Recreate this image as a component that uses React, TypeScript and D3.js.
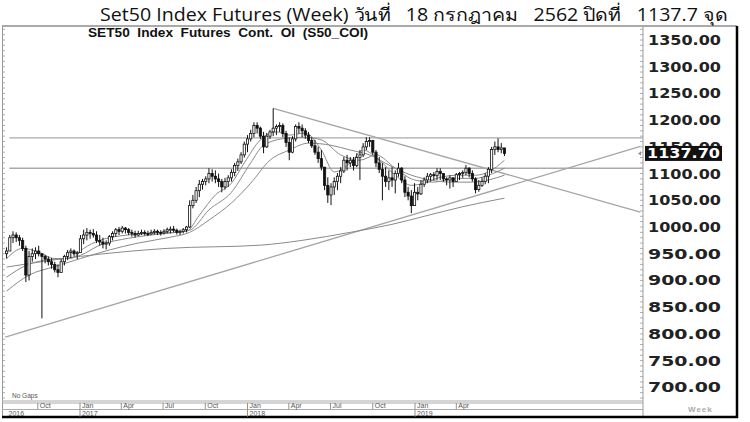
import * as d3 from "d3";

// weekly bars, first bar is the week of 25 Jul 2016
const firstWeek = new Date(2016, 6, 25);
const firstOpen = 950;

const closes = [
  955, 980, 985, 980, 975, 960, 910, 945, 950, 955,
  950, 945, 940, 935, 930, 920, 915, 935, 945, 952,
  955, 950, 952, 978, 985, 990, 988, 985, 975, 972,
  968, 970, 982, 988, 995, 992, 998, 995, 990, 988,
  985, 988, 990, 988, 987, 990, 992, 990, 989, 992,
  995, 996, 994, 990, 992, 995, 1000, 1040, 1050, 1068,
  1080, 1085, 1090, 1100, 1095, 1090, 1085, 1075, 1085, 1092,
  1102, 1115, 1122, 1135, 1155, 1165, 1175, 1190, 1185, 1170,
  1150, 1170, 1178, 1185, 1188, 1190, 1175, 1158, 1140, 1165,
  1188, 1185, 1180, 1172, 1162, 1152, 1140, 1128, 1112, 1078,
  1060, 1075, 1085, 1095, 1105, 1125, 1120, 1125, 1115, 1130,
  1135, 1150, 1160, 1162, 1140, 1120, 1108, 1095, 1085, 1092,
  1088, 1100, 1110, 1088, 1065, 1058, 1040, 1065, 1062, 1080,
  1088, 1095, 1098, 1096, 1104, 1100, 1090, 1088, 1092, 1085,
  1098, 1100, 1102, 1110, 1100, 1090, 1070, 1078, 1085, 1095,
  1108, 1145, 1150, 1145, 1148, 1137.7,
];

const highs = [
  962, 985, 992, 990, 985, 980, 965, 955, 960, 962,
  965, 950, 948, 945, 942, 935, 930, 940, 948, 957,
  960, 958, 955, 985, 995, 998, 995, 996, 992, 985,
  980, 975, 985, 992, 998, 1000, 1002, 1000, 998, 995,
  993, 993, 995, 994, 993, 995, 996, 995, 994, 996,
  999, 1001, 1002, 997, 995, 998, 1002, 1050, 1060, 1075,
  1088, 1090, 1095, 1110, 1108, 1106, 1100, 1090, 1092, 1097,
  1108, 1120, 1128, 1140, 1160, 1172, 1182, 1196, 1196, 1188,
  1178, 1176, 1182, 1222, 1192, 1196, 1194, 1180, 1168, 1170,
  1192, 1196, 1192, 1185, 1178, 1168, 1163, 1150, 1144, 1112,
  1093, 1082, 1093, 1101, 1112, 1131, 1135, 1131, 1131, 1138,
  1144, 1157, 1168, 1168, 1163, 1144, 1131, 1120, 1112, 1106,
  1112, 1106, 1120, 1112, 1095, 1075, 1069, 1082, 1075, 1088,
  1093, 1101, 1101, 1103, 1110, 1110, 1097, 1093, 1097, 1093,
  1101, 1103, 1106, 1116, 1112, 1106, 1093, 1088, 1093, 1101,
  1112, 1150, 1160, 1166, 1157, 1148,
];

const lows = [
  941, 955, 970, 972, 965, 955, 897, 900, 935, 940,
  945, 829, 932, 928, 922, 915, 906, 920, 928, 938,
  942, 945, 940, 955, 968, 975, 978, 980, 970, 965,
  960, 958, 965, 975, 982, 985, 988, 988, 985, 982,
  980, 983, 985, 984, 983, 985, 986, 985, 984, 986,
  988, 988, 990, 986, 985, 988, 990, 998, 1035, 1045,
  1056, 1070, 1078, 1082, 1085, 1082, 1075, 1065, 1070, 1075,
  1085, 1095, 1105, 1118, 1130, 1140, 1160, 1168, 1175, 1165,
  1138, 1148, 1165, 1170, 1172, 1178, 1168, 1150, 1125, 1138,
  1160, 1175, 1168, 1165, 1157, 1148, 1135, 1120, 1106, 1069,
  1045, 1041, 1060, 1069, 1082, 1101, 1106, 1112, 1106, 1112,
  1088, 1131, 1144, 1150, 1135, 1112, 1101, 1050, 1075, 1069,
  1075, 1063, 1094, 1082, 1056, 1050, 1026, 1045, 1050, 1060,
  1075, 1082, 1085, 1088, 1088, 1088, 1085, 1078, 1072, 1075,
  1085, 1088, 1092, 1097, 1093, 1085, 1063, 1066, 1075, 1080,
  1082, 1101, 1135, 1140, 1138, 1133,
];

// moving averages: [week index, value]
const maFast: [number, number][] = [
  [0, 941], [5, 960], [10, 953], [15, 941], [20, 941], [24, 960], [29, 975], [35, 983],
  [45, 988], [56, 992], [60, 1022], [65, 1060], [70, 1082], [74, 1120], [79, 1163],
  [84, 1178], [88, 1172], [93, 1176], [98, 1144], [102, 1103], [107, 1120], [111, 1144],
  [116, 1125], [121, 1097], [126, 1078], [130, 1082], [135, 1093], [141, 1097],
  [146, 1097], [150, 1103], [155, 1125],
];
const maMid: [number, number][] = [
  [0, 906], [6, 928], [12, 938], [18, 941], [23, 947], [29, 966], [38, 979], [48, 987],
  [57, 994], [63, 1032], [70, 1065], [76, 1120], [80, 1153], [87, 1166], [93, 1168],
  [98, 1163], [104, 1135], [110, 1125], [115, 1135], [121, 1110], [127, 1088],
  [133, 1084], [140, 1091], [146, 1091], [150, 1097], [155, 1110],
];
const maSlow: [number, number][] = [
  [0, 880], [7, 910], [15, 926], [23, 941], [32, 957], [41, 970], [51, 981], [57, 990],
  [63, 1013], [70, 1045], [76, 1082], [82, 1125], [88, 1144], [94, 1157], [101, 1153],
  [107, 1144], [113, 1135], [119, 1116], [126, 1097], [132, 1088], [138, 1084],
  [144, 1084], [150, 1088], [155, 1097],
];
const maLong: [number, number][] = [
  [0, 925], [23, 945], [50, 960], [79, 966], [92, 975], [107, 990], [120, 1005],
  [130, 1020], [142, 1038], [155, 1054],
];

const priceTicks = [1350, 1300, 1250, 1200, 1150, 1100, 1050, 1000, 950, 900, 850, 800, 750, 700];
const lastClose = 1137.7;
const levels = [1167, 1110];
const levelStart = new Date(2016, 6, 31);
const trendLines: { from: [Date, number]; to: [Date, number] }[] = [
  { from: [new Date(2016, 6, 22), 794], to: [new Date(2020, 4, 6), 1151] },
  { from: [new Date(2018, 1, 26), 1222], to: [new Date(2020, 4, 6), 1028] },
];

const monthTicks: [Date, string][] = [
  [new Date(2016, 9, 1), "Oct"], [new Date(2017, 0, 1), "Jan"], [new Date(2017, 3, 1), "Apr"],
  [new Date(2017, 6, 1), "Jul"], [new Date(2017, 9, 1), "Oct"], [new Date(2018, 0, 1), "Jan"],
  [new Date(2018, 3, 1), "Apr"], [new Date(2018, 6, 1), "Jul"], [new Date(2018, 9, 1), "Oct"],
  [new Date(2019, 0, 1), "Jan"], [new Date(2019, 3, 1), "Apr"],
];
const yearTicks: [Date, string][] = [
  [new Date(2016, 6, 25), "2016"], [new Date(2017, 0, 1), "2017"],
  [new Date(2018, 0, 1), "2018"], [new Date(2019, 0, 1), "2019"],
];

const title = "Set50 Index Futures (Week) วันที่   18 กรกฎาคม   2562 ปิดที่   1137.7 จุด";
const subtitle = "SET50  Index  Futures  Cont.  OI  (S50_COI)";

export default function App() {
  const W = 750, H = 422;
  const plot = { left: 2, right: 643, top: 26, bottom: 401, frameRight: 737, frameBottom: 417 };

  const x = d3.scaleTime().domain([new Date(2017, 0, 1), new Date(2019, 0, 1)]).range([80, 415]);
  const y = d3.scaleLinear().domain([700, 1350]).range([387.3, 40]);
  const weekDate = (i: number) => d3.timeDay.offset(firstWeek, i * 7);

  const bars = closes.map((c, i) => ({
    cx: x(weekDate(i)),
    open: i === 0 ? firstOpen : closes[i - 1],
    high: highs[i],
    low: lows[i],
    close: c,
  }));

  const maLine = d3.line<[number, number]>()
    .x((d) => x(weekDate(d[0])))
    .y((d) => y(d[1]))
    .curve(d3.curveMonotoneX);

  const minorTicks = d3.range(680, 1390, 10).filter((v) => y(v) > plot.top + 1 && y(v) < plot.bottom - 1);
  const bw = 2.2;
  const axisFont = "'Liberation Sans', Arial, sans-serif";
  const priceFont = "'DejaVu Sans', Verdana, sans-serif";

  return (
    <svg width={W} height={H} style={{ position: "absolute", left: 0, top: 0, background: "#fff" }}>
      <rect width={W} height={H} fill="#fff" />
      <text x={100} y={21} fontFamily="'Open Sans', 'Noto Sans', sans-serif" fontSize={18} fill="#111"
        textLength={628} lengthAdjust="spacingAndGlyphs" style={{ whiteSpace: "pre" }}>
        {title}
      </text>

      {/* frame */}
      <line x1={plot.left} x2={plot.frameRight} y1={plot.top} y2={plot.top} stroke="#555" strokeWidth={1} />
      <line x1={plot.left + 0.5} x2={plot.left + 0.5} y1={plot.top} y2={plot.frameBottom} stroke="#999" strokeWidth={1} />
      <line x1={plot.right} x2={plot.right} y1={plot.top} y2={plot.frameBottom} stroke="#999" strokeWidth={1} />
      <line x1={plot.frameRight} x2={plot.frameRight} y1={plot.top} y2={plot.frameBottom + 1} stroke="#000" strokeWidth={2.5} />
      <line x1={plot.left} x2={plot.frameRight + 1} y1={plot.frameBottom} y2={plot.frameBottom} stroke="#000" strokeWidth={2.5} />
      <line x1={plot.left} x2={plot.right} y1={plot.bottom} y2={plot.bottom} stroke="#aaa" strokeWidth={1} />
      <line x1={plot.left} x2={plot.right} y1={plot.bottom + 2} y2={plot.bottom + 2} stroke="#aaa" strokeWidth={1} />
      <line x1={plot.left} x2={plot.right} y1={409.5} y2={409.5} stroke="#aaa" strokeWidth={1} />

      {minorTicks.map((v) => (
        <g key={v}>
          <line x1={plot.right - 3} x2={plot.right} y1={y(v)} y2={y(v)} stroke="#999" strokeWidth={0.8} />
          <line x1={plot.left} x2={plot.left + 3} y1={y(v)} y2={y(v)} stroke="#999" strokeWidth={0.8} />
        </g>
      ))}

      <text x={88} y={37} fontFamily={axisFont} fontWeight="bold" fontSize={13.5} fill="#111"
        textLength={280} lengthAdjust="spacingAndGlyphs" style={{ whiteSpace: "pre" }}>
        {subtitle}
      </text>

      {/* support / resistance */}
      {levels.map((v) => (
        <line key={v} x1={x(levelStart)} x2={plot.right} y1={y(v)} y2={y(v)} stroke="#aaa" strokeWidth={1.3} />
      ))}
      {trendLines.map((t, i) => (
        <line key={i} x1={x(t.from[0])} y1={y(t.from[1])} x2={x(t.to[0])} y2={y(t.to[1])} stroke="#a5a5a5" strokeWidth={1.3} />
      ))}

      {/* moving averages */}
      {[maFast, maMid, maSlow, maLong].map((ma, i) => (
        <path key={i} d={maLine(ma) ?? ""} fill="none" stroke="#8a8a8a" strokeWidth={1} />
      ))}

      {/* candles */}
      {bars.map((b, i) => {
        const up = b.close >= b.open;
        const top = y(Math.max(b.open, b.close));
        const h = Math.max(1, Math.abs(y(b.open) - y(b.close)));
        return (
          <g key={i}>
            <line x1={b.cx} x2={b.cx} y1={y(b.high)} y2={y(b.low)} stroke="#111" strokeWidth={1} />
            <rect x={b.cx - bw / 2} y={top} width={bw} height={h} fill={up ? "#fff" : "#111"} stroke="#111" strokeWidth={0.8} />
          </g>
        );
      })}

      {/* price axis */}
      {priceTicks.map((v) => (
        <text key={v} x={648} y={y(v) + 5} fontFamily={priceFont} fontWeight="bold" fontSize={13.5} fill="#222"
          textLength={73} lengthAdjust="spacingAndGlyphs">
          {v.toFixed(2)}
        </text>
      ))}
      <rect x={645} y={y(lastClose) - 7.5} width={77} height={15} fill="#111" />
      <text x={647} y={y(lastClose) + 5} fontFamily={priceFont} fontWeight="bold" fontSize={13.5} fill="#fff"
        textLength={73} lengthAdjust="spacingAndGlyphs">
        {lastClose.toFixed(2)}
      </text>
      <path d={`M${plot.right - 5},${y(lastClose)} l3,-2 v4 z`} fill="#888" />
      <text x={688} y={412} fontFamily={axisFont} fontWeight="bold" fontSize={8} fill="#aaa" letterSpacing={1}>
        Week
      </text>

      {/* time axis */}
      <text x={12} y={398} fontFamily={axisFont} fontSize={6.5} fill="#555">No  Gaps</text>
      {monthTicks.map(([d, label], i) => (
        <g key={i}>
          <line x1={x(d)} x2={x(d)} y1={plot.bottom + 2} y2={409} stroke="#777" strokeWidth={0.8} />
          <text x={x(d) + 2} y={408} fontFamily={axisFont} fontSize={7} fill="#555">{label}</text>
        </g>
      ))}
      {yearTicks.map(([d, label], i) => (
        <g key={i}>
          {i > 0 && <line x1={x(d)} x2={x(d)} y1={409.5} y2={plot.frameBottom} stroke="#777" strokeWidth={0.8} />}
          <text x={x(d) + 2} y={415.5} fontFamily={axisFont} fontSize={7} fill="#555">{label}</text>
        </g>
      ))}
    </svg>
  );
}
